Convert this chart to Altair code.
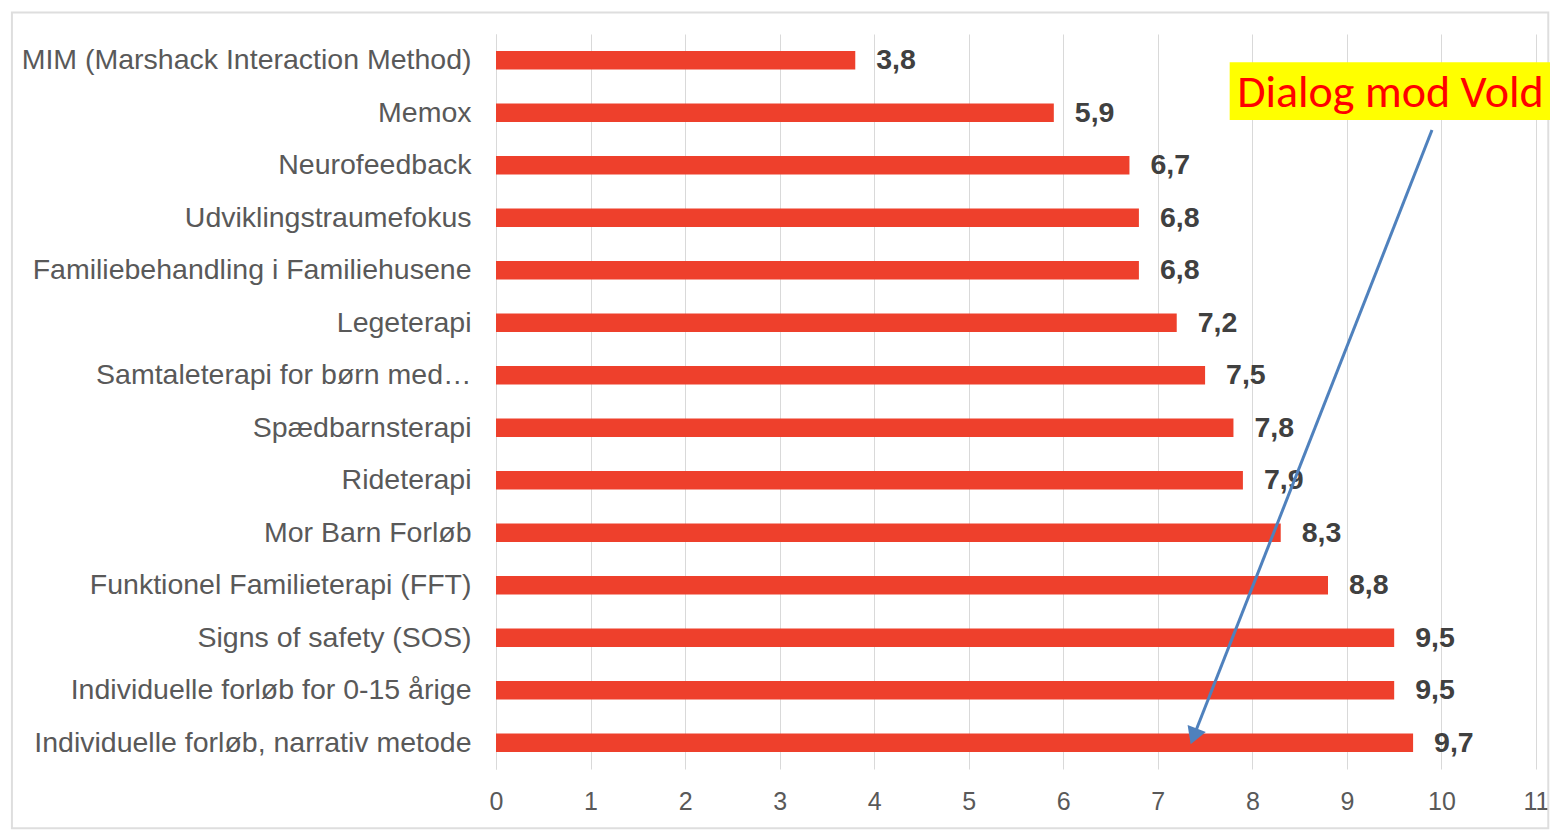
import altair as alt
import pandas as pd

categories = [
    "MIM (Marshack Interaction Method)",
    "Memox",
    "Neurofeedback",
    "Udviklingstraumefokus",
    "Familiebehandling i Familiehusene",
    "Legeterapi",
    "Samtaleterapi for børn med…",
    "Spædbarnsterapi",
    "Rideterapi",
    "Mor Barn Forløb",
    "Funktionel Familieterapi (FFT)",
    "Signs of safety (SOS)",
    "Individuelle forløb for 0-15 årige",
    "Individuelle forløb, narrativ metode",
]
values = [3.8, 5.9, 6.7, 6.8, 6.8, 7.2, 7.5, 7.8, 7.9, 8.3, 8.8, 9.5, 9.5, 9.7]
x_ticks = list(range(0, 12))

# annotation (in data units: x = score, y = row index from the top)
note_text = ["Dialog mod Vold"]
note_text_pos = [9.46, 1.13]
note_box = [7.76, 11.3, 0.54, 1.64]          # x, x2, y, y2
arrow_line = [9.90, 1.83, 7.39, 13.33]       # x, y, x2, y2
arrow_head = [7.39, 13.33]
frame_box = [-5.12, 11.13, -0.41, 15.13]

df = pd.DataFrame({
    "name": categories,
    "value": values,
    "label": [f"{v:.1f}".replace(".", ",") for v in values],
})

RED = "#ee402c"
GRID = "#d9d9d9"
LABEL = "#595959"
BLUE = "#4f81bd"

xscale = alt.Scale(domain=[0, 11], nice=False, zero=True)
base = alt.Chart(df).encode(
    y=alt.Y(
        "name:N",
        sort=categories,
        scale=alt.Scale(paddingInner=0.65, paddingOuter=0.325),
        axis=alt.Axis(
            title=None, labelFontSize=28.5, labelColor=LABEL, labelPadding=25,
            ticks=False, domainColor=GRID, labelLimit=0, labelFont="Liberation Sans",
            grid=False,
        ),
    )
)

bars = base.mark_bar(color=RED).encode(
    x=alt.X(
        "value:Q",
        scale=xscale,
        axis=alt.Axis(
            values=x_ticks, format="d", title=None, grid=True, gridColor=GRID, domain=False,
            ticks=False, labelFontSize=25, labelColor=LABEL, labelPadding=20,
            labelFont="Liberation Sans", labelFlush=False,
        ),
    )
)

texts = base.mark_text(
    align="left", dx=21, fontSize=28.5, fontWeight="bold", color="#404040",
    font="Liberation Sans",
).encode(x=alt.X("value:Q", scale=xscale), text="label:N")

yq = alt.Scale(domain=[0, 14], reverse=True, nice=False, zero=False)

frame = alt.Chart(pd.DataFrame({
    "x": [frame_box[0]], "x2": [frame_box[1]], "y": [frame_box[2]], "y2": [frame_box[3]]
})).mark_rect(fill=None, stroke="#dedede", strokeWidth=2).encode(
    x=alt.X("x:Q", scale=xscale), x2="x2:Q",
    y=alt.Y("y:Q", scale=yq, axis=None), y2="y2:Q",
)

box = alt.Chart(pd.DataFrame({
    "x": [note_box[0]], "x2": [note_box[1]], "y": [note_box[2]], "y2": [note_box[3]]
})).mark_rect(color="#ffff00").encode(
    x=alt.X("x:Q", scale=xscale), x2="x2:Q",
    y=alt.Y("y:Q", scale=yq, axis=None), y2="y2:Q",
)

note = alt.Chart(pd.DataFrame({
    "x": [note_text_pos[0]], "y": [note_text_pos[1]], "t": note_text
})).mark_text(
    fontSize=46, color="#ff0000", font="Carlito, Lato", align="center", baseline="middle"
).encode(
    x=alt.X("x:Q", scale=xscale),
    y=alt.Y("y:Q", scale=yq, axis=None),
    text="t:N",
)

arrow = alt.Chart(pd.DataFrame({
    "x": [arrow_line[0]], "y": [arrow_line[1]], "x2": [arrow_line[2]], "y2": [arrow_line[3]]
})).mark_rule(color=BLUE, strokeWidth=3).encode(
    x=alt.X("x:Q", scale=xscale), x2="x2:Q",
    y=alt.Y("y:Q", scale=yq, axis=None), y2="y2:Q",
)

head = alt.Chart(pd.DataFrame({
    "x": [arrow_head[0]], "y": [arrow_head[1]]
})).mark_point(shape="triangle", filled=True, size=380, angle=201, color=BLUE, opacity=1).encode(
    x=alt.X("x:Q", scale=xscale),
    y=alt.Y("y:Q", scale=yq, axis=None),
)

main = alt.layer(bars, texts)
annot = alt.layer(frame, box, note, arrow, head)

chart = alt.layer(main, annot).resolve_scale(y="independent").properties(
    width=1040,
    height=735,
    autosize=alt.AutoSizeParams(type="none"),
    padding={"left": 488, "top": 26, "right": 14, "bottom": 62},
).configure_view(stroke=None)

chart.save("out.html", embed_options={"renderer": "svg", "actions": False})
